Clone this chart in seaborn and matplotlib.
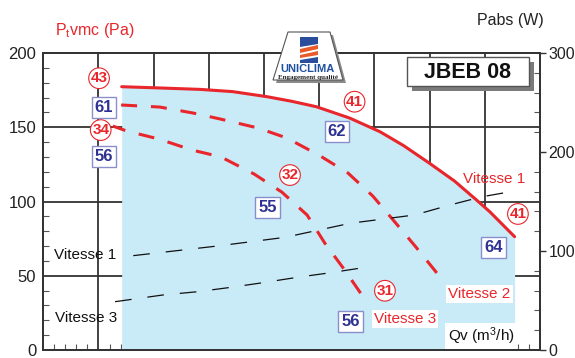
import matplotlib
matplotlib.use("Agg")
import matplotlib.pyplot as plt
from matplotlib.patches import Polygon, Rectangle
from matplotlib.ticker import MultipleLocator
import seaborn as sns

# Pressure curves (Pa) against airflow position (grid units)
q_v1 = [1.42, 2.0, 2.84, 3.43, 4.05, 4.5, 4.95, 5.55, 6.1, 6.53, 7.0, 7.45, 7.85, 8.09, 8.54]
p_v1 = [177.3, 176.6, 175.5, 174.0, 170.6, 167.5, 163.8, 156.2, 147.0, 137.6, 125.7, 113.8, 101.0, 93.1, 76.3]

q_v2 = [1.41, 2.11, 2.71, 3.2, 3.89, 4.41, 4.99, 5.52, 5.97, 6.37, 6.75, 7.13]
p_v2 = [165.0, 163.6, 159.6, 155.6, 149.5, 142.8, 131.3, 119.2, 103.7, 86.2, 69.4, 51.9]

q_v3 = [1.26, 1.51, 2.1, 2.69, 3.22, 3.82, 4.32, 4.78, 5.1, 5.46, 5.81]
p_v3 = [150.8, 147.5, 142.0, 134.7, 130.0, 118.5, 106.4, 90.9, 72.0, 53.9, 35.0]

# Absorbed power (W)
q_w1 = [1.63, 3.15, 4.38, 5.56, 6.73, 7.37, 7.95, 8.54]
w_v1 = [95.3, 105.0, 113.8, 128.0, 136.4, 146.5, 154.8, 160.6]

q_w3 = [1.3, 2.17, 2.8, 3.4, 3.98, 4.6, 5.21, 5.79]
w_v3 = [48.8, 55.6, 58.9, 63.3, 68.0, 73.4, 78.1, 83.1]

# Operating-point markers: (x, y, text)
circle_labels = [(1.01, 183.0, "43"), (1.04, 148.1, "34"), (5.64, 167.2, "41"),
                 (4.47, 117.8, "32"), (6.19, 39.9, "31"), (8.60, 91.6, "41")]
box_labels = [(1.10, 163.3, "61"), (1.10, 130.0, "56"), (5.32, 147.1, "62"),
              (4.06, 95.8, "55"), (5.57, 18.9, "56"), (8.16, 68.7, "64")]

RED = "#e8262b"
BLUE_TXT = "#2e3192"
FILL = "#c9eaf7"
GRID = "#333333"

sns.set_theme(style="white")
plt.rcParams["font.family"] = ["Liberation Sans", "DejaVu Sans"]
plt.rcParams["mathtext.default"] = "regular"
plt.rcParams["lines.scale_dashes"] = False

W, H = 575, 358
fig = plt.figure(figsize=(W / 100, H / 100), dpi=100)
fig.patch.set_facecolor("white")


def fpx(x, y):
    return (x / W, 1 - y / H)


left, right, top, bottom = 43.3, 540, 53, 350
ax = fig.add_axes([left / W, 1 - bottom / H, (right - left) / W, (bottom - top) / H])
ax.set_facecolor("white")
ax.set_xlim(0, 9)
ax.set_ylim(0, 200)

ax.fill_between(q_v1, 0, p_v1, color=FILL, lw=0, zorder=1)

sns.lineplot(x=q_v1, y=p_v1, ax=ax, color=RED, linewidth=2.2, zorder=3)
sns.lineplot(x=q_v2, y=p_v2, ax=ax, color=RED, linewidth=2.2, zorder=3,
             linestyle=(0, (11.5, 10)))
sns.lineplot(x=q_v3, y=p_v3, ax=ax, color=RED, linewidth=2.2, zorder=3,
             linestyle=(2, (11.5, 10)))

ax.xaxis.set_major_locator(MultipleLocator(1))
ax.xaxis.set_minor_locator(MultipleLocator(0.2))
ax.yaxis.set_major_locator(MultipleLocator(50))
ax.yaxis.set_minor_locator(MultipleLocator(10))
ax.grid(True, which="major", color=GRID, lw=1.3)
ax.tick_params(axis="x", which="major", length=0, labelbottom=False)
ax.tick_params(axis="x", which="minor", direction="in", length=4.5, width=0.8,
               color="#555555", bottom=True, top=False)
ax.tick_params(axis="y", which="major", length=0, labelsize=12, pad=5, colors="#222222")
ax.tick_params(axis="y", which="minor", direction="in", length=4.5, width=0.8,
               color="#555555", left=True, right=False)
for s in ax.spines.values():
    s.set_color(GRID)
    s.set_linewidth(1.3)

ax2 = ax.twinx()
ax2.set_ylim(0, 300)
sns.lineplot(x=q_w1, y=w_v1, ax=ax2, color="#111111", linewidth=0.9,
             linestyle=(0, (12, 11.5)))
sns.lineplot(x=q_w3, y=w_v3, ax=ax2, color="#111111", linewidth=0.9,
             linestyle=(0, (12, 11.5)))
ax2.yaxis.set_major_locator(MultipleLocator(100))
ax2.yaxis.set_minor_locator(MultipleLocator(20))
ax2.tick_params(axis="y", which="major", direction="out", length=4, width=1,
                labelsize=11.5, pad=2, colors="#222222")
ax2.tick_params(axis="y", which="major", color=GRID)
ax2.tick_params(axis="y", which="minor", direction="in", length=4.5, width=0.8,
                color="#555555")
for s in ax2.spines.values():
    s.set_color(GRID)
    s.set_linewidth(1.3)

# Operating-point markers
for x, y, t in circle_labels:
    ax2.text(x, y, t, transform=ax.transData, ha="center", va="center",
             fontsize=11, fontweight="bold", color=RED, zorder=6,
             bbox=dict(boxstyle="circle,pad=0.12", fc="white", ec=RED, lw=0.8))
for x, y, t in box_labels:
    ax2.text(x, y, t, transform=ax.transData, ha="center", va="center",
             fontsize=12, fontweight="bold", color=BLUE_TXT, zorder=6,
             bbox=dict(boxstyle="square,pad=0.18", fc="white", ec="#8a8fcc", lw=1))

# Curve names and axis titles
fig.text(*fpx(494.5, 179), "Vitesse 1", ha="center", va="center",
         fontsize=11, color=RED, zorder=10)
fig.text(*fpx(479.5, 294), "Vitesse 2", ha="center", va="center",
         fontsize=11, color=RED, zorder=10,
         bbox=dict(boxstyle="square,pad=0.15", fc="white", ec="none"))
fig.text(*fpx(405, 319), "Vitesse 3", ha="center", va="center",
         fontsize=11, color=RED, zorder=10,
         bbox=dict(boxstyle="square,pad=0.15", fc="white", ec="none"))
fig.text(*fpx(85.5, 255), "Vitesse 1", ha="center", va="center",
         fontsize=11, color="#111111", zorder=10)
fig.text(*fpx(86, 318), "Vitesse 3", ha="center", va="center",
         fontsize=11, color="#111111", zorder=10)
fig.text(*fpx(481, 336), "Qv (m$^3$/h)", ha="center", va="center",
         fontsize=11, color="#111111", zorder=10,
         bbox=dict(boxstyle="square,pad=0.15", fc="white", ec="none"))
fig.text(*fpx(95, 31), "P$_t$vmc (Pa)", ha="center", va="center",
         fontsize=11.5, color=RED)
fig.text(*fpx(510, 21), "Pabs (W)", ha="center", va="center",
         fontsize=11.5, color="#222222")

# Model tag with drop shadow
fig.add_artist(Rectangle(fpx(412, 91), 122 / W, 29 / H, transform=fig.transFigure,
                         fc="#7a7a7a", ec="none", zorder=11))
fig.add_artist(Rectangle(fpx(407, 86), 122 / W, 29 / H, transform=fig.transFigure,
                         fc="white", ec="#555555", lw=1, zorder=12))
fig.text(*fpx(468, 72), "JBEB 08", ha="center", va="center", fontsize=15.5,
         fontweight="bold", color="#111111", zorder=13)

# Quality-label badge
shadow = [fpx(291, 35), fpx(333, 35), fpx(346, 83), fpx(276, 83)]
badge = [fpx(288, 32), fpx(330, 32), fpx(343, 80), fpx(273, 80)]
fig.add_artist(Polygon(shadow, closed=True, transform=fig.transFigure,
                       fc="#8a8a8a", ec="none", zorder=11))
fig.add_artist(Polygon(badge, closed=True, transform=fig.transFigure,
                       fc="white", ec="#555555", lw=0.8, zorder=12))
stripes = [
    ([(300, 37), (318, 37), (318, 44), (300, 47)], "#2a4e9b"),
    ([(300, 49), (318, 45), (318, 49), (300, 53)], "#e85a2a"),
    ([(300, 55), (318, 51), (318, 55), (300, 58)], "#e85a2a"),
    ([(300, 60), (318, 57), (318, 63), (300, 63)], "#2a4e9b"),
]
for pts, c in stripes:
    fig.add_artist(Polygon([fpx(*p) for p in pts], closed=True,
                           transform=fig.transFigure, fc=c, ec="none", zorder=13))
fig.text(*fpx(308, 68.5), "UNICLIMA", ha="center", va="center", fontsize=8,
         fontweight="bold", color="#1f4fa0", zorder=14)
fig.text(*fpx(308, 77), "Engagement qualité", ha="center", va="center",
         fontsize=5, fontweight="bold", color="#222222", zorder=14,
         family=["Liberation Serif", "DejaVu Serif"])

fig.savefig("out.png", dpi=100, facecolor="white")
